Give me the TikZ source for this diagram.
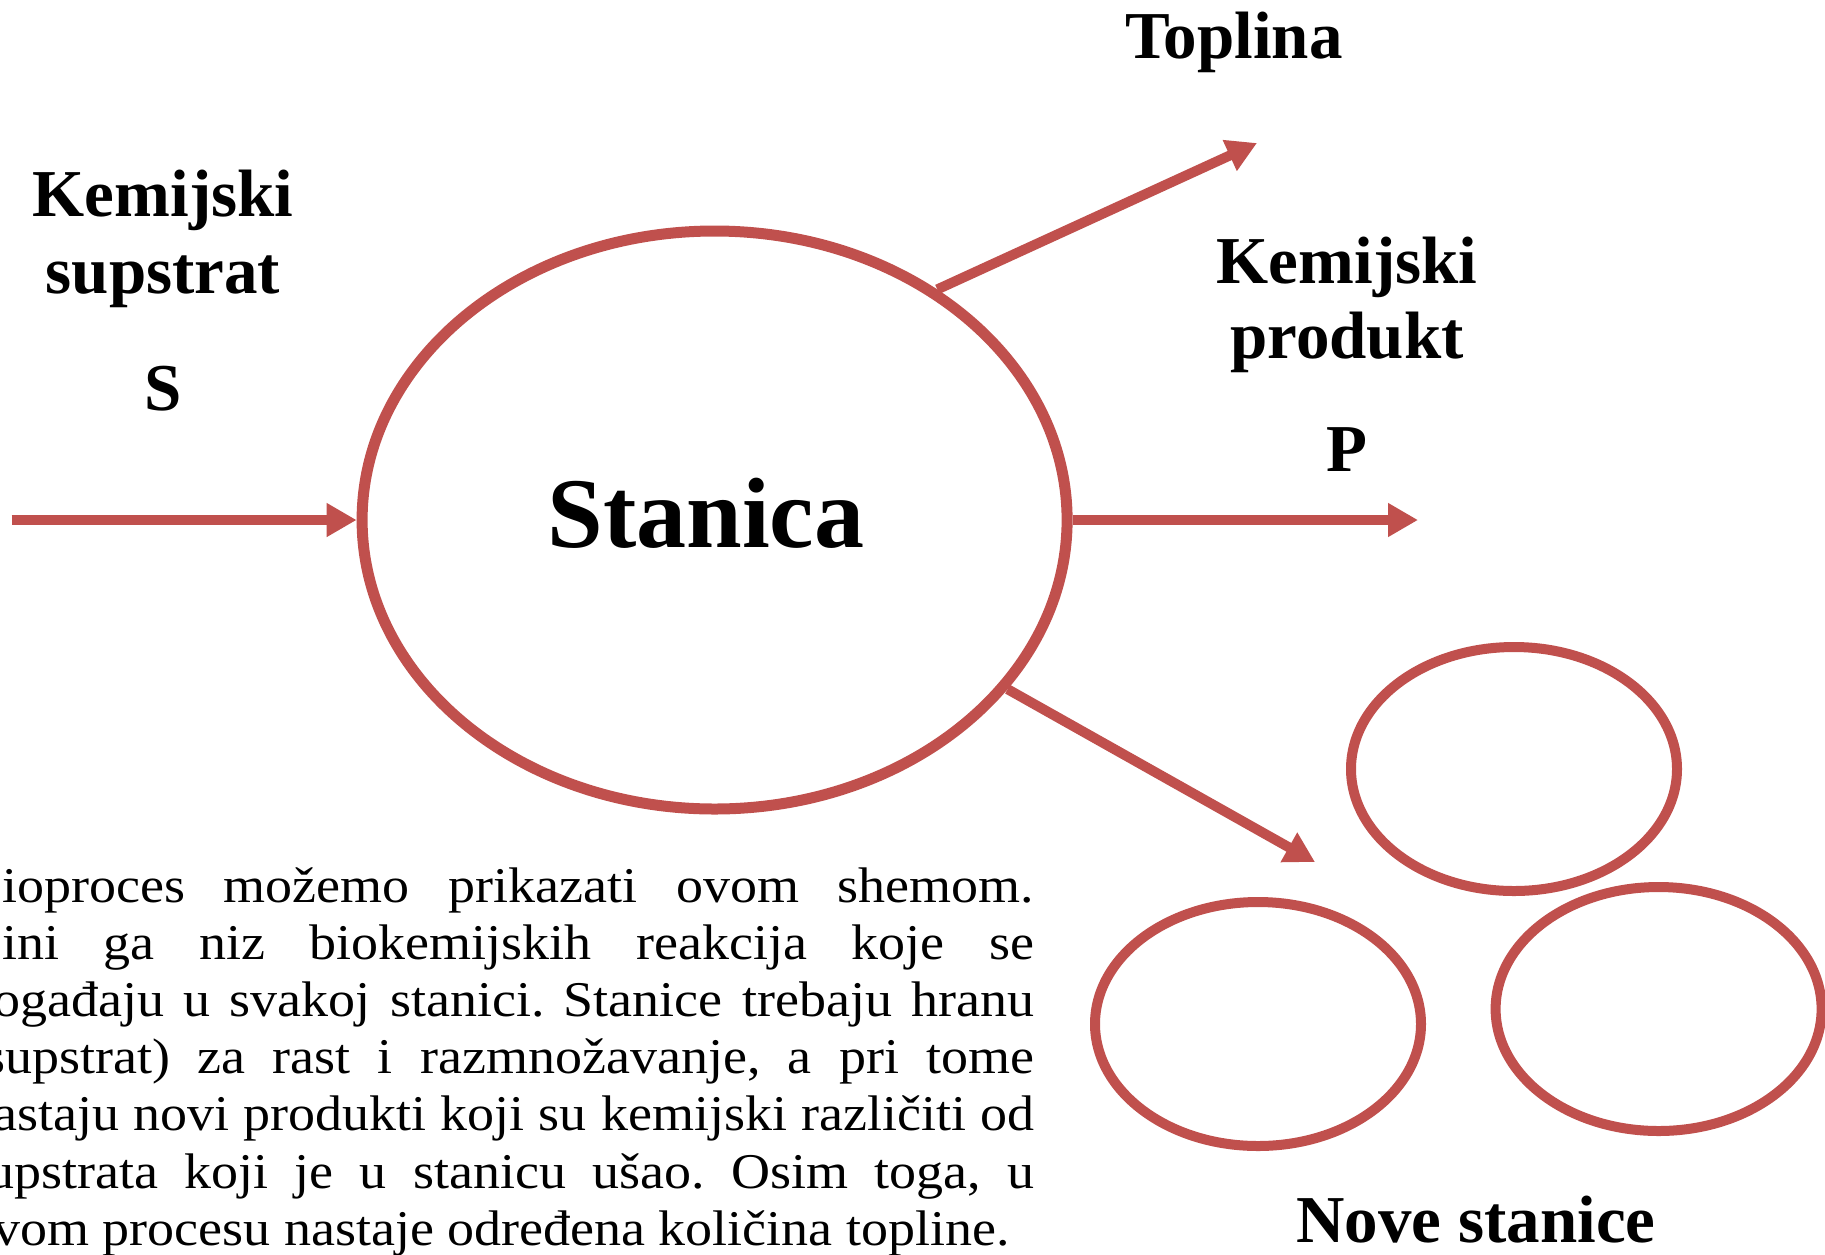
\documentclass[tikz,border=0pt]{standalone}
\usepackage{fontspec}
\setmainfont{Liberation Serif}
\newfontfamily\parafont[FakeStretch=1.08]{Liberation Serif}
\usetikzlibrary{shapes.geometric,arrows.meta}
\definecolor{cellred}{RGB}{192,80,77}
\begin{document}
\begin{tikzpicture}[x=1pt,y=-1pt,
  cellline/.style={ellipse,draw=cellred,line width=11pt,inner sep=0pt},
  bigcell/.style={cellline,minimum width=705pt,minimum height=578pt},
  smallcell/.style={cellline,line width=10pt,minimum width=326pt,minimum height=244pt},
  flow/.style={draw=cellred,line width=10pt,-{Triangle[length=30pt,width=32pt]}},
  lbl/.style={font=\fontsize{67}{72}\selectfont\bfseries,anchor=base,inner sep=0pt},
  ]
\useasboundingbox (0,0) rectangle (1825,1254);
\node[bigcell] (cell) at (714.6,520) {};
\node[smallcell] (c1) at (1514,769) {};
\node[smallcell] (c2) at (1258,1024) {};
\node[smallcell] (c3) at (1658.6,1009) {};

\node[font=\fontsize{100}{110}\selectfont\bfseries,anchor=base,inner sep=0pt] (stanica) at (706,547) {Stanica};

\node[lbl] (ks1) at (163,216) {Kemijski};
\node[lbl] (ks2) at (163,293) {supstrat};
\node[lbl] (ks3) at (163,410) {S};
\node[lbl] (kp1) at (1347,283) {Kemijski};
\node[lbl] (kp2) at (1347,358) {produkt};
\node[lbl] (kp3) at (1347,471) {P};
\node[lbl] (topl) at (1234,58) {Toplina};
\node[lbl] (nove) at (1476,1242) {Nove stanice};

\coordinate (sin) at (11.6,520);
\coordinate (heat) at (1257,143);
\coordinate (pout) at (1418,520);
\coordinate (newc) at (1315,862);
\draw[flow] (sin) -- (cell.west);
\draw[flow] (cell.46) -- (heat);
\draw[flow] (cell.east) -- (pout);
\draw[flow] (cell.-30) -- (newc);

\node[anchor=base west,inner sep=0pt] (para) at (-34,902) {\begin{minipage}[t]{1068pt}\parafont\fontsize{50}{57.2}\selectfont\frenchspacing\hyphenpenalty=10000\exhyphenpenalty=10000\parindent=0pt
Bioproces možemo prikazati ovom shemom.\linebreak
Čini ga niz biokemijskih reakcija koje se\linebreak
događaju u svakoj stanici. Stanice trebaju hranu\linebreak
(supstrat) za rast i razmnožavanje, a pri tome\linebreak
nastaju novi produkti koji su kemijski različiti od\linebreak
supstrata koji je u stanicu ušao. Osim toga, u\linebreak
ovom procesu nastaje određena količina topline.
\end{minipage}};
\end{tikzpicture}
\end{document}
